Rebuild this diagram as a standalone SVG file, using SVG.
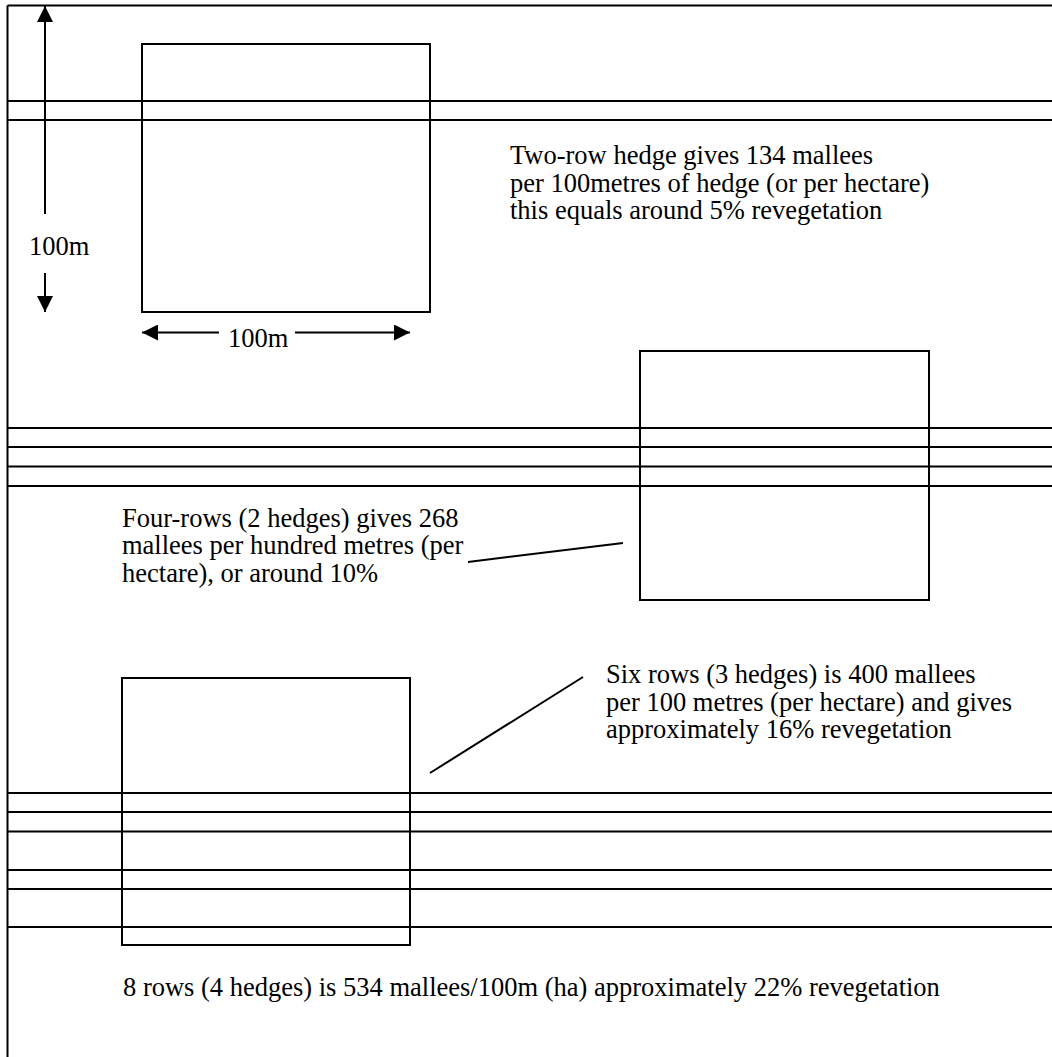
<svg xmlns="http://www.w3.org/2000/svg" width="1052" height="1057" viewBox="0 0 1052 1057">
<style>
.l{stroke:#000;stroke-width:2;fill:none}
.t{font-family:'Liberation Serif','Times New Roman','DejaVu Serif',serif;font-size:26.5px;fill:#000}
</style>
<defs>
<marker id="ah" viewBox="0 0 10 10" refX="10" refY="5" markerWidth="8" markerHeight="8" orient="auto-start-reverse" markerUnits="strokeWidth">
<path d="M0,0 L10,5 L0,10 z" fill="#000"/>
</marker>
</defs>
<rect width="1052" height="1057" fill="#fff"/>
<g id="frame">
<line class="l" x1="7.5" y1="5.5" x2="1052" y2="5.5"/>
<line class="l" x1="7.5" y1="5.5" x2="7.5" y2="1057"/>
</g>
<g id="hedge-lines">
<line class="l" x1="7.5" y1="101" x2="1052" y2="101"/>
<line class="l" x1="7.5" y1="120" x2="1052" y2="120"/>
<line class="l" x1="7.5" y1="428" x2="1052" y2="428"/>
<line class="l" x1="7.5" y1="447" x2="1052" y2="447"/>
<line class="l" x1="7.5" y1="466.5" x2="1052" y2="466.5"/>
<line class="l" x1="7.5" y1="486" x2="1052" y2="486"/>
<line class="l" x1="7.5" y1="793" x2="1052" y2="793"/>
<line class="l" x1="7.5" y1="812" x2="1052" y2="812"/>
<line class="l" x1="7.5" y1="831.5" x2="1052" y2="831.5"/>
<line class="l" x1="7.5" y1="870" x2="1052" y2="870"/>
<line class="l" x1="7.5" y1="889" x2="1052" y2="889"/>
<line class="l" x1="7.5" y1="927" x2="1052" y2="927"/>
</g>
<g id="box1"><rect class="l" x="142" y="44" width="288" height="268"/></g>
<g id="box2"><rect class="l" x="640" y="351" width="289" height="249"/></g>
<g id="box3"><rect class="l" x="122" y="678" width="288" height="267"/></g>
<g id="connectors">
<line class="l" x1="45" y1="214" x2="45" y2="6" marker-end="url(#ah)"/>
<line class="l" x1="45" y1="273" x2="45" y2="312" marker-end="url(#ah)"/>
<line class="l" x1="219" y1="332.5" x2="142" y2="332.5" marker-end="url(#ah)"/>
<line class="l" x1="295" y1="332.5" x2="410" y2="332.5" marker-end="url(#ah)"/>
<line class="l" x1="468" y1="562" x2="623" y2="543"/>
<line class="l" x1="430" y1="773" x2="583" y2="677"/>
</g>
<g id="labels">
<text class="t" x="29" y="255">100m</text>
<text class="t" x="228" y="347">100m</text>
<text class="t" x="510" y="164">Two-row hedge gives 134 mallees</text>
<text class="t" x="510" y="191.5">per 100metres of hedge (or per hectare)</text>
<text class="t" x="510" y="219">this equals around 5% revegetation</text>
<text class="t" x="122" y="526.5">Four-rows (2 hedges) gives 268</text>
<text class="t" x="122" y="554">mallees per hundred metres (per</text>
<text class="t" x="122" y="581.5">hectare), or around 10%</text>
<text class="t" x="606" y="683">Six rows (3 hedges) is 400 mallees</text>
<text class="t" x="606" y="710.5">per 100 metres (per hectare) and gives</text>
<text class="t" x="606" y="738">approximately 16% revegetation</text>
<text class="t" x="123" y="996">8 rows (4 hedges) is 534 mallees/100m (ha) approximately 22% revegetation</text>
</g>
</svg>
